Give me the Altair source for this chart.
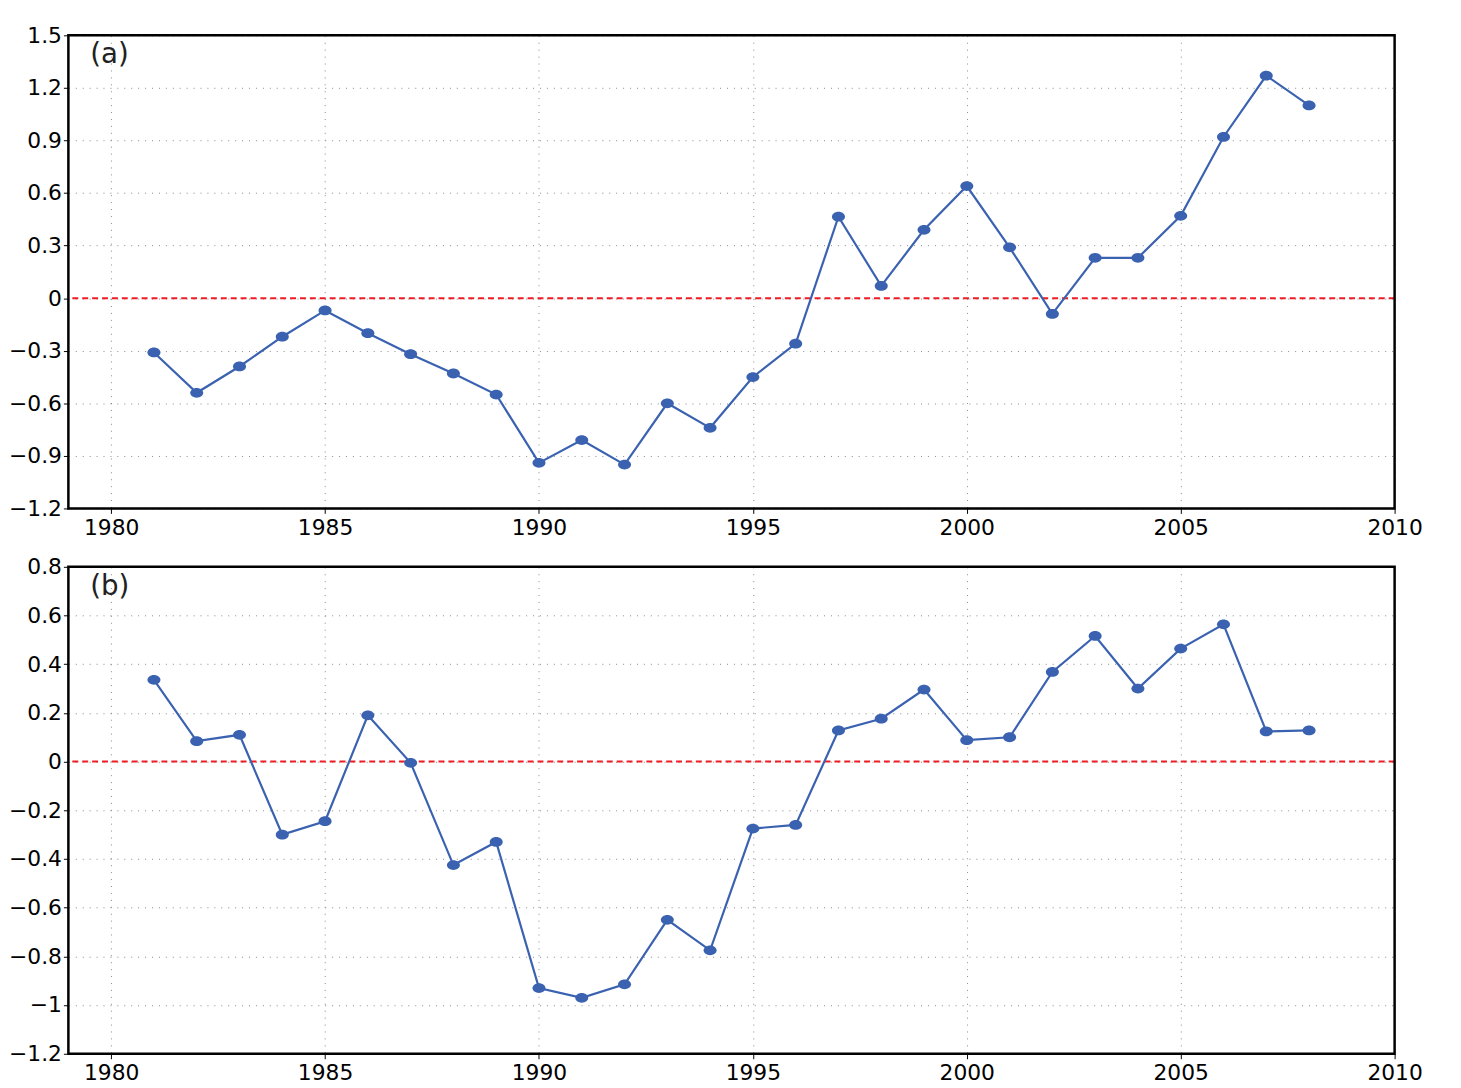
import altair as alt
import pandas as pd

years = list(range(1981, 2009))
series_a = [-0.31, -0.54, -0.39, -0.22, -0.07, -0.20, -0.32, -0.43, -0.55, -0.94,
            -0.81, -0.95, -0.60, -0.74, -0.45, -0.26, 0.465, 0.07, 0.39, 0.64,
            0.29, -0.09, 0.23, 0.23, 0.47, 0.92, 1.27, 1.10]
series_b = [0.336, 0.084, 0.11, -0.30, -0.245, 0.19, -0.005, -0.425, -0.33, -0.93,
            -0.97, -0.915, -0.65, -0.775, -0.275, -0.26, 0.128, 0.176, 0.296, 0.088,
            0.10, 0.368, 0.516, 0.30, 0.464, 0.564, 0.124, 0.128]
x_ticks = [1980, 1985, 1990, 1995, 2000, 2005, 2010]
ticks_a = [-1.2, -0.9, -0.6, -0.3, 0, 0.3, 0.6, 0.9, 1.2, 1.5]
ticks_b = [-1.2, -1, -0.8, -0.6, -0.4, -0.2, 0, 0.2, 0.4, 0.6, 0.8]

FONT = "DejaVu Sans"
W = 1340

def panel(vals, ticks, dom, label, h):
    df = pd.DataFrame({"year": years, "v": vals})
    x = alt.X("year:Q", scale=alt.Scale(domain=[1979, 2010], nice=False),
              axis=alt.Axis(values=x_ticks, format="d", title=None, labelFontSize=22,
                            labelPadding=4, tickSize=5, grid=True, gridDash=[1, 6],
                            gridColor="#888", domain=False, labelFont=FONT,
                            labelColor="black", tickColor="black", labelFlush=False))
    y = alt.Y("v:Q", scale=alt.Scale(domain=dom, nice=False, zero=False),
              axis=alt.Axis(values=ticks, title=None, labelFontSize=22, tickSize=5,
                            format="~g", grid=True, gridDash=[1, 6], gridColor="#888",
                            domain=False, labelFont=FONT, labelColor="black",
                            tickColor="black", labelFlush=False,
                            labelExpr="replace(datum.label, '-', '\u2212')"))
    base = alt.Chart(df)
    line = base.mark_line(color="#3a62b0", strokeWidth=2.2).encode(x=x, y=y)
    pts = base.mark_point(filled=True, color="#3a62b0", size=120, opacity=1,
                          shape="M-1.2,0A1.2,0.9 0 1,0 1.2,0A1.2,0.9 0 1,0 -1.2,0Z").encode(x="year:Q", y="v:Q")
    zero = alt.Chart(pd.DataFrame({"z": [0]})).mark_rule(color="#ee1c24", strokeDash=[6, 4], strokeWidth=2).encode(y="z:Q")
    txt = alt.Chart(pd.DataFrame({"t": [label]})).mark_text(
        align="left", baseline="top", fontSize=28, font=FONT, color="#222"
    ).encode(x=alt.value(22), y=alt.value(6), text="t:N")
    frame = alt.Chart(pd.DataFrame({"t": [0]})).mark_rect(
        fill=None, stroke="black", strokeWidth=2.5, filled=False
    ).encode(x=alt.value(0), x2=alt.value(W), y=alt.value(0), y2=alt.value(h))
    return alt.layer(zero, line, pts, txt, frame).properties(width=W, height=h)

a = panel(series_a, ticks_a, [-1.2, 1.5], "(a)", 478)
b = panel(series_b, ticks_b, [-1.2, 0.8], "(b)", 492)

chart = alt.vconcat(a, b, spacing=16).configure_view(
    stroke=None
).configure(background="white", padding={"left": 0, "top": 10, "right": 30, "bottom": 0})

chart.save("out.html", embed_options={"renderer": "svg", "actions": False})
